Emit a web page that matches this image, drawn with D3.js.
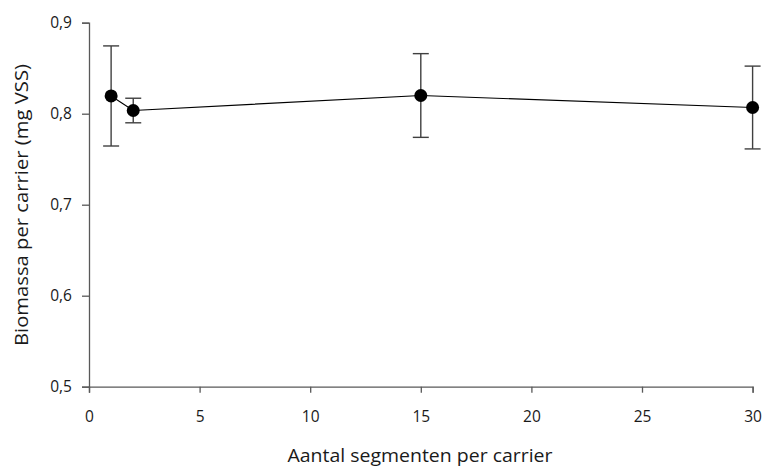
<!DOCTYPE html>
<html>
<head>
<meta charset="utf-8">
<script src="https://cdn.jsdelivr.net/npm/d3@7"></script>
<style>
  html, body { margin: 0; padding: 0; background: #ffffff; }
  svg { display: block; }
  text { font-family: "Open Sans", "Liberation Sans", sans-serif; fill: #1a1a1a; }
</style>
</head>
<body>
<svg id="chart" width="763" height="468"></svg>
<script>
// Number of segments per carrier vs. biomass (mg VSS), with standard deviation
const segments = [1, 2, 15, 30];
const biomass = [0.8195, 0.8035, 0.8200, 0.8068];
const errors = [0.0550, 0.0135, 0.0460, 0.0455];
const xTicks = [0, 5, 10, 15, 20, 25, 30];
const yTicks = [0.5, 0.6, 0.7, 0.8, 0.9];
const xTitle = "Aantal segmenten per carrier";
const yTitle = "Biomassa per carrier (mg VSS)";

const svg = d3.select("#chart");

const x = d3.scaleLinear().domain([0, 30]).range([89, 752.6]);
const y = d3.scaleLinear().domain([0.5, 0.9]).range([386.7, 22.7]);

const fmt = d => d3.format(".1f")(d).replace(".", ",");
const axisColor = "#595959";

// X axis
const gx = svg.append("g")
  .attr("transform", `translate(0,${y(0.5)})`)
  .call(d3.axisBottom(x).tickValues(xTicks).tickSize(6).tickPadding(18).tickFormat(d3.format("d")));
gx.select(".domain").attr("stroke", axisColor).attr("stroke-width", 1.3);
gx.selectAll(".tick line").attr("stroke", axisColor).attr("stroke-width", 1.3);
gx.selectAll(".tick text").style("font-size", "15.5px").attr("fill", "#1a1a1a");

// Y axis
const gy = svg.append("g")
  .attr("transform", `translate(${x(0)},0)`)
  .call(d3.axisLeft(y).tickValues(yTicks).tickSize(7).tickPadding(10).tickFormat(fmt));
gy.select(".domain").attr("stroke", axisColor).attr("stroke-width", 1.3);
gy.selectAll(".tick line").attr("stroke", axisColor).attr("stroke-width", 1.3);
gy.selectAll(".tick text").style("font-size", "15.5px").attr("fill", "#1a1a1a");

// Axis titles
svg.append("text")
  .attr("x", 420).attr("y", 462)
  .attr("text-anchor", "middle")
  .attr("textLength", 265)
  .attr("lengthAdjust", "spacingAndGlyphs")
  .style("font-size", "18px")
  .text(xTitle);

svg.append("text")
  .attr("transform", `translate(28,205) rotate(-90)`)
  .attr("text-anchor", "middle")
  .attr("textLength", 282)
  .attr("lengthAdjust", "spacingAndGlyphs")
  .style("font-size", "18px")
  .text(yTitle);

const data = segments.map((s, i) => ({ s, v: biomass[i], e: errors[i] }));

// Error bars
const eb = svg.append("g").attr("stroke", "#404040").attr("stroke-width", 1.4);
data.forEach(d => {
  eb.append("line").attr("x1", x(d.s)).attr("x2", x(d.s))
    .attr("y1", y(d.v + d.e)).attr("y2", y(d.v - d.e));
  [d.v + d.e, d.v - d.e].forEach(v => {
    eb.append("line").attr("x1", x(d.s) - 8).attr("x2", x(d.s) + 8)
      .attr("y1", y(v)).attr("y2", y(v));
  });
});

// Connecting line
svg.append("path")
  .datum(data)
  .attr("fill", "none")
  .attr("stroke", "#000")
  .attr("stroke-width", 1.2)
  .attr("d", d3.line().x(d => x(d.s)).y(d => y(d.v)));

// Markers
svg.append("g").selectAll("circle")
  .data(data)
  .join("circle")
  .attr("cx", d => x(d.s))
  .attr("cy", d => y(d.v))
  .attr("r", 6.5)
  .attr("fill", "#000");
</script>
</body>
</html>
